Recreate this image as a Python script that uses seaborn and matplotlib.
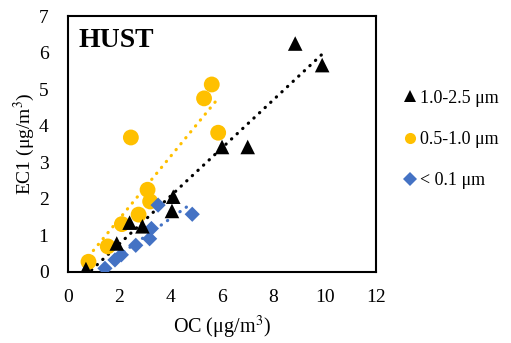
import numpy as np
import pandas as pd
import matplotlib
matplotlib.use("Agg")
import matplotlib.pyplot as plt
import seaborn as sns
from matplotlib.lines import Line2D

sns.set_style("white")
plt.rcParams['font.family'] = ['Liberation Serif', 'DejaVu Serif']
plt.rcParams['mathtext.fontset'] = 'stix'
plt.rcParams['text.color'] = 'black'
plt.rcParams['axes.labelcolor'] = 'black'
plt.rcParams['xtick.color'] = 'black'
plt.rcParams['ytick.color'] = 'black'

# Data
oc_coarse = [0.7, 1.9, 2.4, 2.9, 4.05, 4.1, 6.0, 7.0, 8.85, 9.9]
ec_coarse = [0.08, 0.78, 1.35, 1.25, 1.67, 2.06, 3.42, 3.42, 6.25, 5.66]
oc_mid = [0.8, 1.55, 2.1, 2.45, 2.75, 3.1, 3.2, 5.3, 5.6, 5.85]
ec_mid = [0.28, 0.7, 1.31, 3.68, 1.57, 2.25, 1.93, 4.75, 5.13, 3.81]
oc_fine = [1.44, 1.83, 2.08, 2.64, 3.18, 3.25, 3.51, 4.84]
ec_fine = [0.1, 0.33, 0.47, 0.73, 0.91, 1.19, 1.83, 1.58]

labels = ["1.0-2.5 μm", "0.5-1.0 μm", "< 0.1 μm"]
colors = ["#000000", "#FFC000", "#4472C4"]
markers = ["^", "o", "D"]

fig = plt.figure(figsize=(5.11, 3.43), dpi=100)
ax = fig.add_axes([0.133, 0.207, 0.603, 0.746])

series = [(oc_mid, ec_mid, 1), (oc_fine, ec_fine, 2), (oc_coarse, ec_coarse, 0)]
sizes = {0: 110, 1: 130, 2: 60}
for oc, ec, i in series:
    df = pd.DataFrame({"OC": oc, "EC": ec})
    sns.regplot(data=df, x="OC", y="EC", ax=ax, scatter=False, ci=None,
                line_kws=dict(color=colors[i], linestyle=(0, (0.1, 2.3)), linewidth=2.3,
                              dash_capstyle="round", zorder=2))
for oc, ec, i in series:
    df = pd.DataFrame({"OC": oc, "EC": ec})
    sns.scatterplot(data=df, x="OC", y="EC", ax=ax, color=colors[i], marker=markers[i],
                    s=sizes[i], edgecolor="none", linewidth=0, zorder=3, legend=False)

ax.set_xlim(0, 12)
ax.set_ylim(0, 7)
ax.set_xticks(range(0, 13, 2))
ax.set_yticks(range(0, 8))
ax.tick_params(axis="y", labelsize=14, length=0, pad=14)
ax.tick_params(axis="x", labelsize=14, length=0, pad=12)
for s in ax.spines.values():
    s.set_color("black")
    s.set_linewidth(1.5)
ax.set_xlabel("OC (μg/m$^3$)", fontsize=14.5, labelpad=6)
ax.set_ylabel("EC1 (μg/m$^3$)", fontsize=14, labelpad=1)
ax.text(0.035, 0.955, "HUST", transform=ax.transAxes, fontsize=20, fontweight="bold",
        va="top", ha="left", color="black")

handles = [Line2D([], [], linestyle="none", marker=markers[i], color=colors[i],
                  markersize=ms, markeredgewidth=0) for i, ms in zip(range(3), [8, 8, 7])]
fig.legend(handles, labels, loc="upper left", bbox_to_anchor=(0.775, 0.765),
           frameon=False, fontsize=13, labelspacing=1.35, handlelength=0.6,
           handletextpad=0.25, borderpad=0)

fig.savefig("out.png", dpi=100)
